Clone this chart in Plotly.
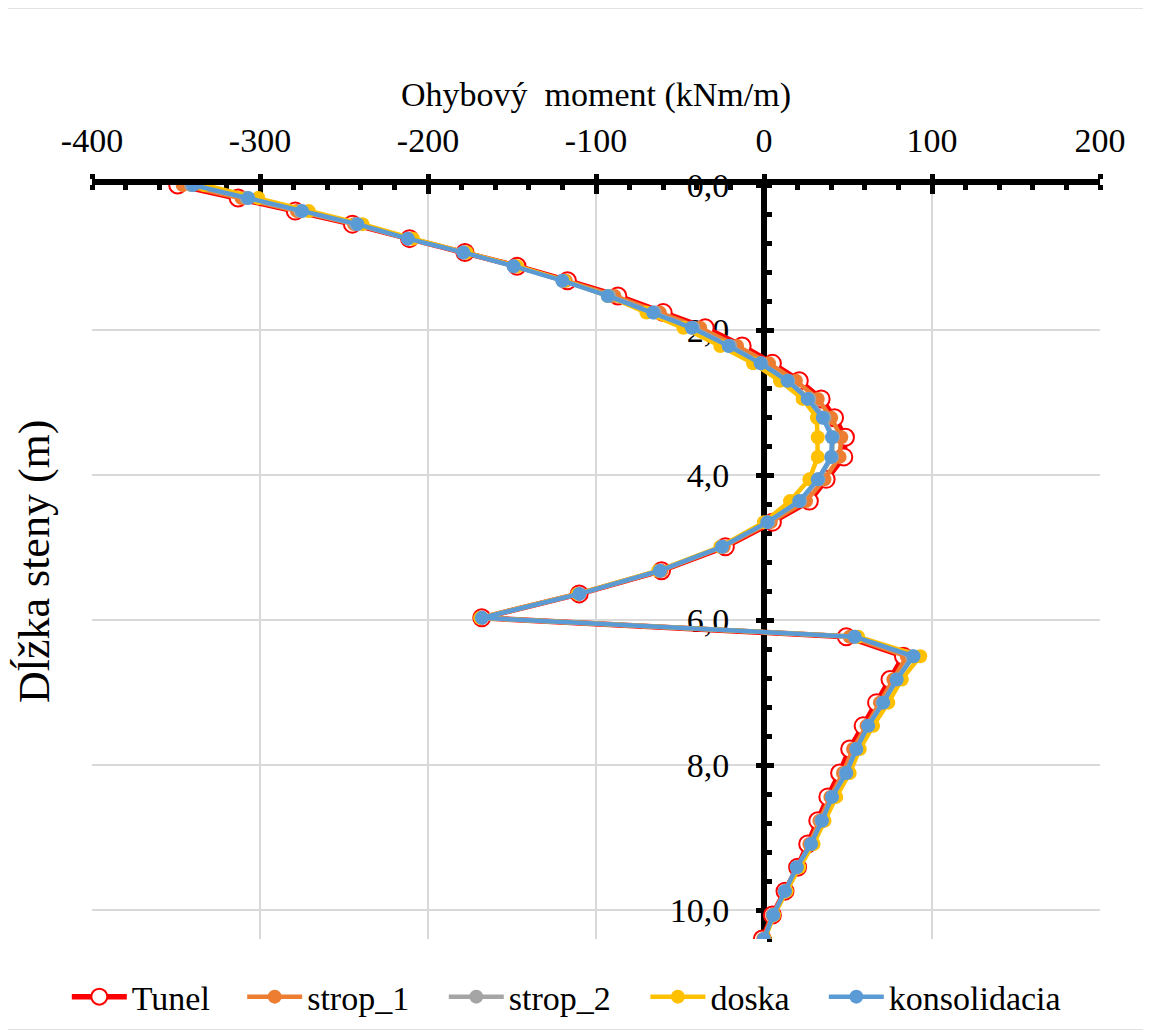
import plotly.graph_objects as go

# ---------------- data ----------------
depth_m = [0.00, 0.18, 0.36, 0.54, 0.74, 0.93, 1.12, 1.32, 1.53, 1.76,
           1.97, 2.22, 2.46, 2.70, 2.95, 3.21, 3.48, 3.75, 4.06, 4.36,
           4.65, 4.99, 5.32, 5.64, 5.97, 6.23, 6.50, 6.82, 7.14, 7.46,
           7.78, 8.11, 8.44, 8.77, 9.09, 9.41, 9.74, 10.07, 10.40]

tunel = [-349, -313, -279, -245, -211, -178, -147, -117, -87, -60,
         -35, -13, 5, 21, 34, 42, 48.5, 47.5, 37, 27,
         5, -23, -61, -110, -168, 49, 83, 75, 67, 59,
         51, 45, 38, 32, 26, 20, 12.5, 5, -1]

strop_1 = [-346, -311, -278, -244, -212, -178, -148, -118, -89, -62,
           -38, -16, 3, 19, 32, 40, 46, 45, 36, 25,
           4, -24, -61, -110, -168, 51, 85, 77, 69, 61,
           53, 47, 39.5, 33, 27, 20, 12.5, 5, -0.5]

strop_2 = [-341, -308, -276, -243, -212, -179, -149, -120, -92, -65,
           -42, -20, -1.5, 14.5, 27, 36, 41, 40.5, 32.5, 21.5,
           2.5, -25, -62, -110, -168, 54, 88, 79, 70.5, 62,
           55, 48.5, 40.5, 34, 28, 19.5, 12.5, 5.5, 0]

doska = [-333, -301, -271, -239, -209, -177, -147, -119, -93, -70,
         -48, -26, -6.5, 9.5, 23, 31.5, 32, 32, 27, 15.5,
         0, -26, -63, -111, -169, 56, 93, 82, 74, 65,
         57, 51, 43, 36, 29.5, 21, 13.5, 6, 0.5]

konsolidacia = [-340, -307, -275, -242, -212, -179, -149, -120, -93, -66,
                -43, -21, -2, 14, 26, 35, 40.5, 40, 32, 21,
                2, -25, -62, -110, -168, 54, 89, 79, 71, 62,
                55, 49, 40.5, 34.5, 28, 19.5, 12.5, 5.5, 0]

x_tick_vals = [-400, -300, -200, -100, 0, 100, 200]
x_tick_text = ["-400", "-300", "-200", "-100", "0", "100", "200"]
y_tick_vals = [0, 2, 4, 6, 8, 10]
y_tick_text = ["0,0", "2,0", "4,0", "6,0", "8,0", "10,0"]

x_title = "Ohybový\u00a0 moment (kNm/m)"
y_title = "Dĺžka steny (m)"

# ---------------- figure ----------------
FONT = "Liberation Serif, Times New Roman, serif"
axis_font = dict(family=FONT, size=34, color="black")

series = [("Tunel", tunel, "#FF0000"),
          ("strop_1", strop_1, "#ED7D31"),
          ("strop_2", strop_2, "#A5A5A5"),
          ("doska", doska, "#FFC000"),
          ("konsolidacia", konsolidacia, "#5B9BD5")]

# left edge (paper fraction) of each legend entry
legend_x = [-0.025, 0.149, 0.349, 0.549, 0.726]
legend_names = ["legend", "legend2", "legend3", "legend4", "legend5"]

fig = go.Figure()
for i, (name, vals, col) in enumerate(series):
    if name == "Tunel":
        line = dict(color=col, width=5.5)
        marker = dict(symbol="circle", size=17, color="white",
                      line=dict(color=col, width=2))
    else:
        line = dict(color=col, width=4.5)
        marker = dict(symbol="circle", size=14, color=col, line=dict(width=0))
    fig.add_trace(go.Scatter(
        x=vals, y=depth_m, mode="lines+markers", name=name,
        line=line, marker=marker, legend=legend_names[i],
    ))

# invisible trace carrying overlay axes (used for crossing tick marks)
fig.add_trace(go.Scatter(x=[None], y=[None], xaxis="x2", yaxis="y2",
                         showlegend=False, hoverinfo="skip"))

legend_layout = {}
for i, ln in enumerate(legend_names):
    legend_layout[ln] = dict(
        orientation="h", x=legend_x[i], xanchor="left",
        y=-0.077, yanchor="middle", font=axis_font,
        itemwidth=55, bgcolor="rgba(0,0,0,0)", borderwidth=0,
    )

fig.update_layout(
    width=1151, height=1030,
    paper_bgcolor="white", plot_bgcolor="white",
    margin=dict(l=84, r=59, t=177, b=99),
    font=axis_font,
    showlegend=True,
    xaxis=dict(
        side="top", range=[-400, 200], tickmode="array",
        tickvals=x_tick_vals, ticktext=x_tick_text,
        showgrid=True, gridcolor="#D9D9D9", gridwidth=1.5,
        zeroline=False, showline=True, linecolor="black", linewidth=6,
        ticks="outside", ticklen=5, tickwidth=5, tickcolor="black",
        minor=dict(dtick=20, tick0=0, ticks="inside", ticklen=5,
                   tickwidth=5, tickcolor="black", showgrid=False),
        tickfont=axis_font, ticklabelstandoff=8,
        title=dict(text=x_title, font=axis_font, standoff=8),
        layer="below traces",
    ),
    yaxis=dict(
        range=[10.4, 0], anchor="free", position=2 / 3,
        tickmode="array", tickvals=y_tick_vals, ticktext=y_tick_text,
        showgrid=True, gridcolor="#D9D9D9", gridwidth=1.5,
        zeroline=False, showline=True, linecolor="black", linewidth=6,
        ticks="outside", ticklen=5, tickwidth=5, tickcolor="black",
        minor=dict(dtick=0.4, tick0=0, ticks="inside", ticklen=5,
                   tickwidth=5, tickcolor="black", showgrid=False),
        tickfont=axis_font, ticklabelstandoff=20,
        layer="below traces",
    ),
    xaxis2=dict(
        overlaying="x", side="top", anchor="y2", range=[-400, 200],
        tickmode="array", tickvals=x_tick_vals, showticklabels=False,
        ticks="inside", ticklen=9, tickwidth=5, tickcolor="black",
        showgrid=False, zeroline=False, showline=False, layer="below traces",
    ),
    yaxis2=dict(
        overlaying="y", anchor="free", position=2 / 3, range=[10.4, 0],
        tickmode="array", tickvals=y_tick_vals, showticklabels=False,
        ticks="inside", ticklen=9, tickwidth=5, tickcolor="black",
        showgrid=False, zeroline=False, showline=False, layer="below traces",
    ),
    annotations=[dict(
        text=y_title, xref="paper", yref="paper", x=-0.0575, y=0.5,
        xanchor="center", yanchor="middle", textangle=-90,
        showarrow=False, font=dict(family=FONT, size=44, color="black"),
    )],
    shapes=[dict(type="rect", xref="paper", yref="paper",
                 x0=-0.0873, x1=1.0466, y0=-0.1207, y1=1.2347,
                 line=dict(color="#D9D9D9", width=1.5), layer="below")],
    **legend_layout,
)

fig.write_html("out.html")
